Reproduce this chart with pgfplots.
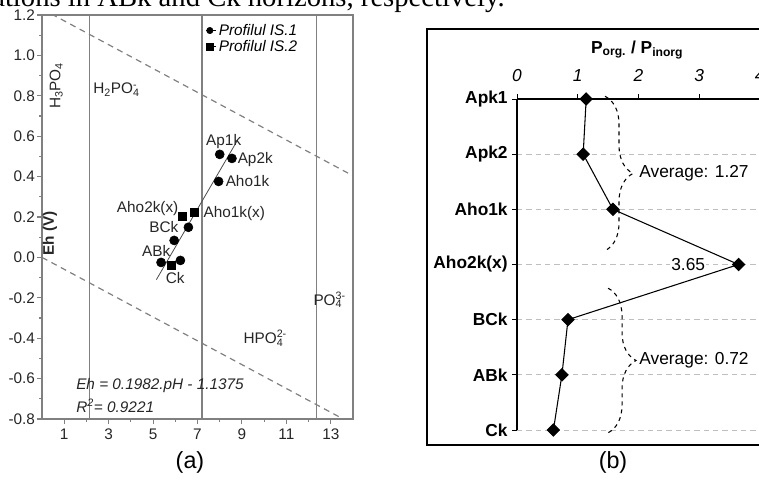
\documentclass[border=0pt]{standalone}
\usepackage{pgfplots}
\pgfplotsset{compat=1.18}
\usepackage{fontspec}
\setmainfont{Liberation Sans}
\newfontfamily\serif{Liberation Serif}
\usetikzlibrary{decorations.pathreplacing}

\definecolor{frame}{HTML}{808080}
\newcommand\fa{\fontsize{11.5}{13.8}\selectfont}
\newcommand\fb{\fontsize{13}{15.6}\selectfont}
% stacked sub/superscript for the ion labels
\newcommand\ion[2]{\rlap{\textsuperscript{#2}}\textsubscript{#1}}

\begin{document}
\begin{tikzpicture}
% ---------- (a) Eh-pH diagram
\begin{axis}[
  at={(31.5pt,46.5pt)}, anchor=south west,
  scale only axis, width=233.25pt, height=303pt,
  xmin=0, xmax=14, ymin=-0.8, ymax=1.2,
  xtick={1,3,5,7,9,11,13}, minor x tick num=1,
  ytick={-0.8,-0.6,-0.4,-0.2,0,0.2,0.4,0.6,0.8,1.0,1.2}, minor y tick num=1,
  xtick pos=left, ytick pos=left, tick align=outside,
  major tick length=3.75pt, minor tick length=2.25pt,
  axis line style={frame, line width=1.1pt},
  tick style={frame, line width=0.8pt},
  ticklabel style={font=\fa, text=black!85},
  yticklabel style={xshift=2pt, /pgf/number format/fixed,
    /pgf/number format/fixed zerofill, /pgf/number format/precision=1},
  /pgf/number format/assume math mode=true,
  legend style={at={(axis cs:7.36,1.17)}, anchor=north west, draw=none,
    fill=none, font=\fa\itshape, inner sep=0pt, row sep=-1.8pt},
  legend cell align=left,
  legend image code/.code={\path (0cm,0cm) -- (0.26cm,0cm);
    \draw[#1, mark size=2.4pt] plot coordinates {(0.1cm,0cm)};},
]
% phase boundaries
\addplot[frame, line width=1.1pt, forget plot] coordinates {(2.15,-0.8)(2.15,1.2)};
\addplot[frame, line width=1.1pt, forget plot] coordinates {(7.2,-0.8)(7.2,1.2)};
\addplot[frame, line width=1.1pt, forget plot] coordinates {(12.35,-0.8)(12.35,1.2)};
% water stability limits
\addplot[frame, line width=0.9pt, dash pattern=on 4.5pt off 3.5pt, forget plot] coordinates {(0,1.23)(14,0.404)};
\addplot[frame, line width=0.9pt, dash pattern=on 4.5pt off 3.5pt, forget plot] coordinates {(0,0)(14,-0.826)};
% regression line
\addplot[black!70, line width=0.6pt, forget plot] coordinates {(5.15,-0.11)(8.8,0.58)};

\addplot[only marks, mark=*, mark size=3.4pt, black] coordinates {
  (8.0,0.51) (8.55,0.49) (7.95,0.376) (6.59,0.149) (5.95,0.084) (5.36,-0.025) (6.23,-0.015)};
\addlegendentry{Profilul IS.1}
\addplot[only marks, mark=square*, mark size=3.1pt, black] coordinates {
  (6.32,0.203) (6.86,0.223) (5.82,-0.04)};
\addlegendentry{Profilul IS.2}

\begin{scope}[every node/.style={font=\fa, text=black!85, inner sep=0.5pt}]
\node[rotate=90] at (axis cs:0.64,0.85) {H\textsubscript{3}PO\textsubscript{4}};
\node at (axis cs:3.45,0.83) {H\textsubscript{2}PO\ion{4}{-}\hphantom{\textsuperscript{-}}};
\node at (axis cs:10.2,-0.40) {HPO\ion{4}{2-}\hphantom{\textsuperscript{2-}}};
\node at (axis cs:13.1,-0.21) {PO\ion{4}{3-}\hphantom{\textsuperscript{3-}}};
\node[rotate=90, font=\fa\bfseries] at (axis cs:0.36,0.12) {Eh (V)};
\node[font=\fa\bfseries] at (axis cs:5.9,-0.91) {pH};
\node[anchor=west, font=\fa\itshape] at (axis cs:1.5,-0.634) {Eh = 0.1982.pH - 1.1375};
\node[anchor=west, font=\fa\itshape] at (axis cs:1.5,-0.733) {R\textsuperscript{2}= 0.9221};
\node at (axis cs:8.18,0.574) {Ap1k};
\node[anchor=west] at (axis cs:8.77,0.485) {Ap2k};
\node[anchor=west] at (axis cs:8.23,0.376) {Aho1k};
\node[anchor=west] at (axis cs:7.23,0.218) {Aho1k(x)};
\node[anchor=east] at (axis cs:6.18,0.243) {Aho2k(x)};
\node[anchor=east] at (axis cs:6.18,0.149) {BCk};
\node[anchor=east] at (axis cs:5.82,0.03) {ABk};
\node at (axis cs:6.0,-0.104) {Ck};
\end{scope}
\end{axis}

% ---------- (b) Porg/Pinorg profile
\draw[line width=1.4pt] (320.25pt,27pt) rectangle (620pt,339pt);
\begin{axis}[
  at={(387.75pt,38.25pt)}, anchor=south west,
  scale only axis, width=200.31pt, height=248.25pt,
  xmin=0, xmax=4.4, ymin=0, ymax=6,
  axis x line*=top, axis y line*=left,
  x axis line style={-}, y axis line style={-},
  axis line style={black, line width=0.8pt},
  xtick pos=right, xticklabel pos=right, ytick pos=left,
  xtick={0,1,2,3,4}, ytick={0,1,2,3,4,5,6},
  yticklabels={Ck,ABk,BCk,Aho2k(x),Aho1k,Apk2,Apk1},
  tick align=outside, major tick length=3.5pt,
  tick style={black, line width=0.6pt},
  xticklabel style={font=\fb\itshape, yshift=6pt},
  yticklabel style={font=\fb\bfseries},
  /pgf/number format/assume math mode=true,
  ymajorgrids, major grid style={black!25, line width=0.7pt, dash pattern=on 4pt off 3pt},
  clip=false,
]
\addplot[black, line width=0.8pt, mark=square*, mark size=3.2pt, mark options={rotate=45, solid}]
  coordinates {(1.14,6) (1.09,5) (1.58,4) (3.65,3) (0.84,2) (0.74,1) (0.60,0)};

\draw[decorate, decoration={brace, amplitude=21pt}, dashed, line width=0.8pt]
  (axis cs:1.45,6.05) -- (axis cs:1.45,3.25);
\draw[decorate, decoration={brace, amplitude=21pt}, dashed, line width=0.8pt]
  (axis cs:1.50,2.57) -- (axis cs:1.50,-0.05);
\node[anchor=west, font=\fb, inner sep=1pt] at (axis cs:1.99,4.65) {Average: 1.27};
\node[anchor=west, font=\fb, inner sep=1pt] at (axis cs:1.99,1.26) {Average: 0.72};
\node[font=\fb, fill=white, inner sep=1pt] at (axis cs:2.82,3) {3.65};
\node[font=\fb\bfseries] at ([yshift=36.75pt]axis cs:1.98,6) {P\textsubscript{org.} / P\textsubscript{inorg}};
\end{axis}

% captions and the cut line of text above
\node[font=\fontsize{17.5}{21}\selectfont] at (142.5pt,14.25pt) {(a)};
\node[font=\fontsize{17.5}{21}\selectfont] at (459.75pt,14.25pt) {(b)};
\node[anchor=base east, inner sep=0pt, font=\serif\fontsize{21.5}{26}\selectfont]
  at (378.75pt,355.5pt) {concentrations in ABk and Ck horizons, respectively.};

\pgfresetboundingbox
\path[use as bounding box] (0,0) rectangle (569.25pt,360.75pt);
\end{tikzpicture}
\end{document}
